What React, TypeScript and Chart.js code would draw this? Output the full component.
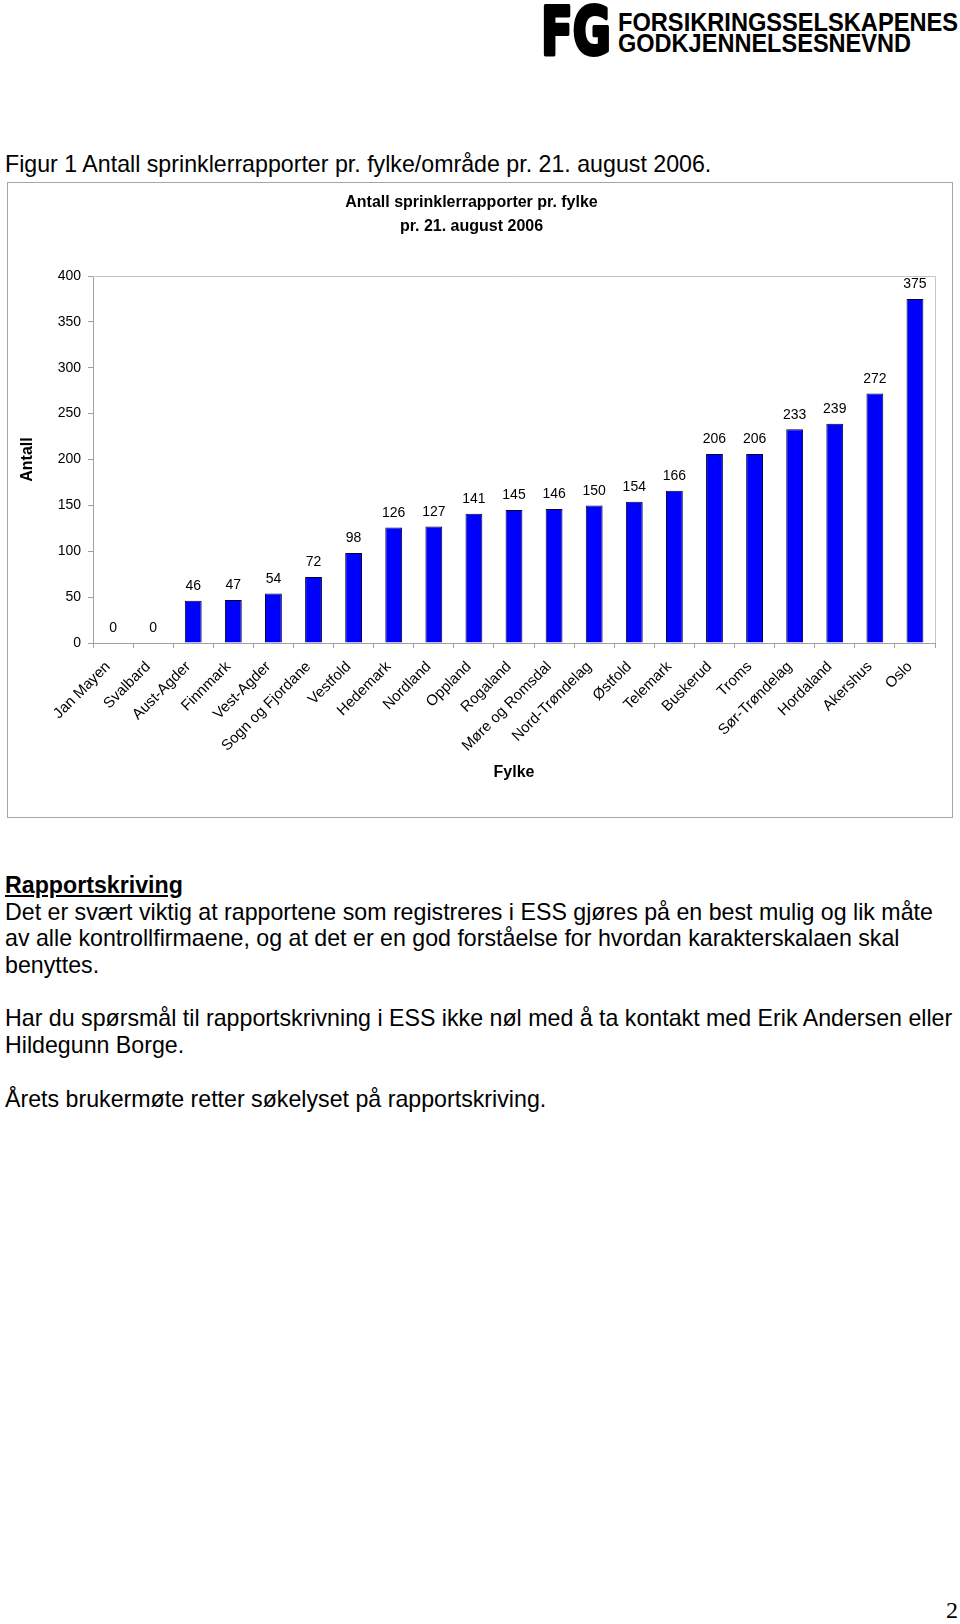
import React, { useEffect, useRef } from "react";
import { Chart, registerables } from "chart.js";

Chart.register(...registerables);

const categories = [
  "Jan Mayen", "Svalbard", "Aust-Agder", "Finnmark", "Vest-Agder", "Sogn og Fjordane",
  "Vestfold", "Hedemark", "Nordland", "Oppland", "Rogaland", "Møre og Romsdal",
  "Nord-Trøndelag", "Østfold", "Telemark", "Buskerud", "Troms", "Sør-Trøndelag",
  "Hordaland", "Akershus", "Oslo",
];
const reportCounts = [0, 0, 46, 47, 54, 72, 98, 126, 127, 141, 145, 146, 150, 154, 166, 206, 206, 233, 239, 272, 375];
const yTickMin = 0;
const yTickMax = 400;
const yTickStep = 50;
const chartTitleLines = ["Antall sprinklerrapporter pr. fylke", "pr. 21. august 2006"];
const yAxisTitle = "Antall";
const xAxisTitle = "Fylke";

const FONT = '"Liberation Sans", Arial, Helvetica, sans-serif';

const valueLabels = {
  id: "valueLabels",
  afterDatasetsDraw(chart: any) {
    const ctx = chart.ctx;
    const meta = chart.getDatasetMeta(0);
    ctx.save();
    ctx.font = `14px ${FONT}`;
    ctx.fillStyle = "#000";
    ctx.textAlign = "center";
    ctx.textBaseline = "middle";
    meta.data.forEach((bar: any, i: number) => {
      const v = chart.data.datasets[0].data[i];
      ctx.fillText(String(v), bar.x, bar.y - 14.5);
    });
    ctx.restore();
  },
};

const plotFrame = {
  id: "plotFrame",
  beforeDatasetsDraw(chart: any) {
    const { ctx, chartArea } = chart;
    ctx.save();
    ctx.strokeStyle = "#c4c4c4";
    ctx.lineWidth = 1;
    ctx.beginPath();
    ctx.moveTo(chartArea.left, chartArea.top + 0.5);
    ctx.lineTo(chartArea.right + 0.5, chartArea.top + 0.5);
    ctx.lineTo(chartArea.right + 0.5, chartArea.bottom);
    ctx.stroke();
    ctx.restore();
  },
};

function BarChart() {
  const ref = useRef<HTMLCanvasElement | null>(null);
  useEffect(() => {
    if (!ref.current) return;
    const chart = new Chart(ref.current, {
      type: "bar",
      data: {
        labels: categories,
        datasets: [
          {
            data: reportCounts,
            backgroundColor: "#0000ff",
            borderColor: "#000033",
            borderWidth: 1,
            borderSkipped: "bottom",
            categoryPercentage: 0.42,
            barPercentage: 1,
          },
        ],
      },
      options: {
        responsive: false,
        animation: false,
        devicePixelRatio: 1,
        layout: { padding: { left: 0, right: 17, top: 0, bottom: 30 } },
        plugins: {
          legend: { display: false },
          tooltip: { enabled: false },
          title: {
            display: true,
            text: chartTitleLines,
            color: "#000",
            font: { family: FONT, size: 16, weight: "bold", lineHeight: 1.5 },
            padding: { top: 8, bottom: 37 },
          },
        },
        scales: {
          x: {
            grid: {
              offset: true,
              drawOnChartArea: false,
              drawTicks: true,
              tickLength: 5,
              color: "#a0a0a0",
            },
            border: { color: "#a0a0a0" },
            ticks: {
              autoSkip: false,
              maxRotation: 45,
              minRotation: 45,
              color: "#000",
              font: { family: FONT, size: 15 },
              padding: 10,
              labelOffset: -5,
            },
            title: {
              display: true,
              text: xAxisTitle,
              color: "#000",
              font: { family: FONT, size: 16, weight: "bold" },
              padding: { top: 0, bottom: 5 },
            },
            afterFit: (s: any) => {
              s.height = 144;
            },
          },
          y: {
            min: yTickMin,
            max: yTickMax,
            grid: {
              drawOnChartArea: false,
              drawTicks: true,
              tickLength: 5,
              color: "#a0a0a0",
            },
            border: { color: "#a0a0a0" },
            ticks: {
              stepSize: yTickStep,
              color: "#000",
              font: { family: FONT, size: 14 },
              padding: 7,
            },
            title: {
              display: true,
              text: yAxisTitle,
              color: "#000",
              font: { family: FONT, size: 16, weight: "bold" },
              padding: { top: 10, bottom: 0 },
            },
            afterFit: (s: any) => {
              s.width = 85;
            },
          },
        },
      },
      plugins: [plotFrame, valueLabels],
    } as any);
    return () => chart.destroy();
  }, []);
  return <canvas ref={ref} width={944} height={634} style={{ display: "block", width: 944, height: 634 }} />;
}

const bodyLines = [
  "Det er svært viktig at rapportene som registreres i ESS gjøres på en best mulig og lik måte",
  "av alle kontrollfirmaene, og at det er en god forståelse for hvordan karakterskalaen skal",
  "benyttes.",
  "",
  "Har du spørsmål til rapportskrivning i ESS ikke nøl med å ta kontakt med Erik Andersen eller",
  "Hildegunn Borge.",
  "",
  "Årets brukermøte retter søkelyset på rapportskriving.",
];

export default function App() {
  const text: React.CSSProperties = {
    position: "absolute",
    fontFamily: FONT,
    fontSize: 23.2,
    lineHeight: "26.7px",
    color: "#000",
    whiteSpace: "nowrap",
  };
  return (
    <div style={{ position: "absolute", left: 0, top: 0, width: 960, height: 1624, background: "#fff", overflow: "hidden" }}>
      <svg style={{ position: "absolute", left: 0, top: 0 }} width={960} height={60}>
        <text x={541} y={54} fontFamily='"DejaVu Sans", sans-serif' fontWeight="bold" fontSize={66} textLength={70} lengthAdjust="spacingAndGlyphs" fill="#000" stroke="#000" strokeWidth={4} strokeLinejoin="round">FG</text>
        <text x={618} y={31} fontFamily={FONT} fontWeight="bold" fontSize={25} textLength={340} lengthAdjust="spacingAndGlyphs" fill="#000">FORSIKRINGSSELSKAPENES</text>
        <text x={618} y={52} fontFamily={FONT} fontWeight="bold" fontSize={25} textLength={293} lengthAdjust="spacingAndGlyphs" fill="#000">GODKJENNELSESNEVND</text>
      </svg>
      <div style={{ ...text, left: 5, top: 150.6 }}>Figur 1 Antall sprinklerrapporter pr. fylke/område pr. 21. august 2006.</div>
      <div style={{ position: "absolute", left: 7, top: 182, width: 946, height: 636, border: "1px solid #a6a6a6", boxSizing: "border-box" }}>
        <BarChart />
      </div>
      <div style={{ ...text, left: 5, top: 872 }}>
        <div style={{ fontWeight: "bold", textDecoration: "underline" }}>Rapportskriving</div>
        {bodyLines.map((l, i) => (
          <div key={i} style={{ height: 26.7 }}>{l}</div>
        ))}
      </div>
      <div style={{ position: "absolute", right: 2, top: 1596, fontFamily: '"Liberation Serif", "Times New Roman", serif', fontSize: 24, lineHeight: "28px" }}>2</div>
    </div>
  );
}
